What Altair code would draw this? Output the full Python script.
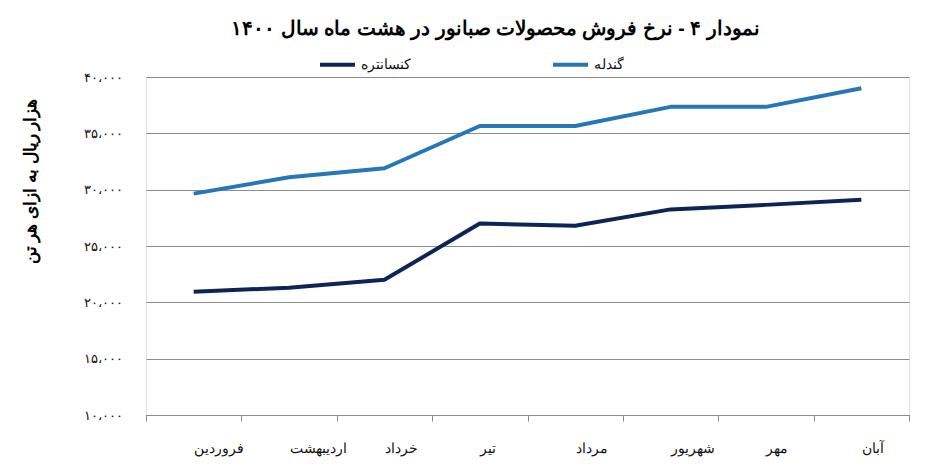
import altair as alt
import pandas as pd

months = ["فروردین", "اردیبهشت", "خرداد", "تیر", "مرداد", "شهریور", "مهر", "آبان"]
series_names = ["کنسانتره", "گندله"]
concentrate = [20950, 21300, 22000, 27000, 26800, 28250, 28650, 29100]
pellet = [29650, 31100, 31900, 35650, 35650, 37350, 37350, 39000]

y_ticks = [10000, 15000, 20000, 25000, 30000, 35000, 40000]
y_tick_labels = ["۱۰،۰۰۰", "۱۵،۰۰۰", "۲۰،۰۰۰", "۲۵،۰۰۰", "۳۰،۰۰۰", "۳۵،۰۰۰", "۴۰،۰۰۰"]

title_text = "نمودار ۴ - نرخ فروش محصولات صبانور در هشت ماه سال ۱۴۰۰"
y_title = "هزار ریال به ازای هر تن"

colors = ["#0e2457", "#2577b8"]
grid_gray = "#8c8c8c"

df = pd.concat(
    [
        pd.DataFrame({"month": months, "series": series_names[0], "value": concentrate}),
        pd.DataFrame({"month": months, "series": series_names[1], "value": pellet}),
    ],
    ignore_index=True,
)

label_expr = " : ".join(
    f"datum.value == {v} ? '{lab}'" for v, lab in zip(y_ticks, y_tick_labels)
) + " : ''"

chart = (
    alt.Chart(df)
    .mark_line(strokeWidth=4, strokeJoin="round")
    .encode(
        x=alt.X(
            "month:N",
            sort=months,
            bandPosition=0.5,
            scale=alt.Scale(type="band", paddingInner=0, paddingOuter=0),
            axis=alt.Axis(
                title=None,
                labelAngle=0,
                labelAlign="left",
                labelBaseline="middle",
                labelPadding=27,
                labelFontSize=14,
                labelColor="#111111",
                tickBand="extent",
                tickSize=6,
                tickColor=grid_gray,
                domainColor=grid_gray,
                grid=False,
            ),
        ),
        y=alt.Y(
            "value:Q",
            scale=alt.Scale(domain=[10000, 40000], nice=False),
            axis=alt.Axis(
                values=y_ticks,
                labelExpr=label_expr,
                domain=False,
                ticks=False,
                gridColor=grid_gray,
                gridOpacity=1,
                labelPadding=24,
                labelFontSize=13,
                labelColor="#111111",
                title=y_title,
                titleFontSize=17,
                titleFontWeight="bold",
                titleColor="#000000",
                titleX=-116,
                titleY=104,
                titleAlign="center",
                titleBaseline="middle",
                titleAngle=-90,
            ),
        ),
        color=alt.Color(
            "series:N",
            scale=alt.Scale(domain=series_names, range=colors),
            legend=alt.Legend(
                orient="none",
                legendX=172,
                legendY=-32,
                direction="horizontal",
                title=None,
                symbolType="stroke",
                symbolSize=1225,
                symbolStrokeWidth=4,
                labelFontSize=14,
                labelColor="#111111",
                labelOffset=4,
                columnPadding=134,
                gridAlign="all",
            ),
        ),
    )
    .properties(
        width=763,
        height=338,
        padding={"left": 138, "top": 69, "right": 30, "bottom": 51},
        autosize=alt.AutoSizeParams(type="none"),
        title=alt.TitleParams(
            title_text,
            fontSize=19.5,
            fontWeight="bold",
            color="#000000",
            anchor="middle",
            frame="group",
            dx=-32,
            offset=6,
        ),
    )
    .configure_view(stroke=None)
    .configure(background="white")
)

chart.save("out.html", embed_options={"renderer": "svg", "actions": False})
